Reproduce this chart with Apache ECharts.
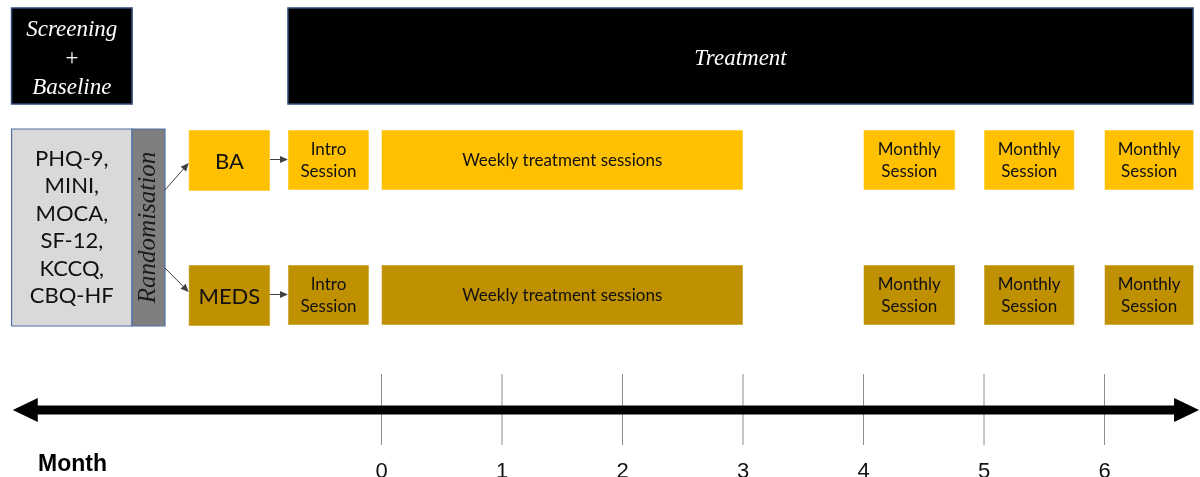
<!DOCTYPE html>
<html><head><meta charset="utf-8">
<script src="https://cdn.jsdelivr.net/npm/echarts@6/dist/echarts.min.js"></script>
<style>html,body{margin:0;padding:0;background:#fff}#c{width:1200px;height:477px}</style>
</head><body><div id="c"></div>
<script>
// ---- data (x in months) ----
const monthTicks = [0, 1, 2, 3, 4, 5, 6];
const monthLabels = ['0', '1', '2', '3', '4', '5', '6'];
const axisTitle = 'Month';
const phaseNames = ['Screening\n+\nBaseline', 'Treatment'];
const phaseStart = [-3.07, -0.776];
const phaseEnd = [-2.07, 6.735];
const assessments = ['PHQ-9,', 'MINI,', 'MOCA,', 'SF-12,', 'KCCQ,', 'CBQ-HF'];
const assessStart = -3.07, assessEnd = -2.07, randEnd = -1.797;
const randomLabel = 'Randomisation';
const arms = ['BA', 'MEDS'];
const armStart = [-1.6, -1.6];
const armEnd = [-0.925, -0.925];
const sessionNames = ['Intro\nSession', 'Weekly treatment sessions', 'Monthly\nSession', 'Monthly\nSession', 'Monthly\nSession'];
const sessionStart = [-0.776, 0, 4, 5, 6];
const sessionEnd = [-0.104, 3, 4.76, 5.75, 6.74];
const timelineStart = -3.06, timelineEnd = 6.785;

// ---- layout / style ----
const armColors = ['#ffc000', '#bf9000'];
const phaseRow = [8, 104];
const armRows = [[130, 191], [265, 326]];
const blockRow = [129, 326];
const axisY = 410;
const sansFont = 'Lato, "Open Sans", sans-serif';
const serifFont = '"Liberation Serif", "DejaVu Serif", serif';

function rectOf(api, x0, y0, x1, y1) {
  const a = api.coord([x0, y0]), b = api.coord([x1, y1]);
  return { x: a[0], y: a[1], width: b[0] - a[0], height: b[1] - a[1] };
}
function arrowEl(p0, p1, color, w, head) {
  const dx = p1[0] - p0[0], dy = p1[1] - p0[1];
  const L = Math.sqrt(dx * dx + dy * dy), ux = dx / L, uy = dy / L;
  const bx = p1[0] - ux * head, by = p1[1] - uy * head;
  const nx = -uy * head * 0.45, ny = ux * head * 0.45;
  return [
    { type: 'line', shape: { x1: p0[0], y1: p0[1], x2: bx, y2: by }, style: { stroke: color, lineWidth: w } },
    { type: 'polygon', shape: { points: [[p1[0], p1[1]], [bx + nx, by + ny], [bx - nx, by - ny]] }, style: { fill: color } }
  ];
}

const option = {
  animation: false,
  grid: { left: 0, right: 0, top: 0, bottom: 0 },
  xAxis: { type: 'value', min: (0 - 381.5) / 120.5, max: (1200 - 381.5) / 120.5, show: false },
  yAxis: { type: 'value', min: 0, max: 477, inverse: true, show: false },
  series: [
    { // phases
      type: 'custom', silent: true,
      data: phaseNames.map((n, i) => [phaseStart[i], phaseEnd[i]]),
      renderItem: (p, api) => {
        const r = rectOf(api, api.value(0), phaseRow[0], api.value(1), phaseRow[1]);
        return { type: 'group', children: [
          { type: 'rect', shape: r, style: { fill: '#000', stroke: '#2f4a7a', lineWidth: 1.5 } },
          { type: 'text', style: { text: phaseNames[p.dataIndex], x: r.x + r.width / 2, y: r.y + r.height / 2 + 3,
            align: 'center', verticalAlign: 'middle', fill: '#fff', font: 'italic 23px ' + serifFont, lineHeight: 29 } }
        ] };
      }
    },
    { // assessments + randomisation
      type: 'custom', silent: true,
      data: [[assessStart, assessEnd, randEnd]],
      renderItem: (p, api) => {
        const r = rectOf(api, api.value(0), blockRow[0], api.value(1), blockRow[1]);
        const rr = rectOf(api, api.value(1), blockRow[0], api.value(2), blockRow[1]);
        return { type: 'group', children: [
          { type: 'rect', shape: r, style: { fill: '#d9d9d9', stroke: '#4f6fa8', lineWidth: 1.2 } },
          { type: 'text', style: { text: assessments.join('\n'), x: r.x + r.width / 2, y: r.y + r.height / 2,
            align: 'center', verticalAlign: 'middle', fill: '#111', font: '22px ' + sansFont, lineHeight: 27.4 } },
          { type: 'rect', shape: rr, style: { fill: '#7f7f7f', stroke: '#4f6fa8', lineWidth: 1.2 } },
          { type: 'text', x: rr.x + rr.width / 2, y: rr.y + rr.height / 2, rotation: Math.PI / 2,
            style: { text: randomLabel, x: 0, y: 0, align: 'center', verticalAlign: 'middle', fill: '#1a1a1a',
              font: 'italic 25px ' + serifFont } }
        ] };
      }
    },
    { // arms
      type: 'custom', silent: true,
      data: arms.map((a, i) => [armStart[i], armEnd[i], i]),
      renderItem: (p, api) => {
        const row = armRows[api.value(2)];
        const r = rectOf(api, api.value(0), row[0], api.value(1), row[1]);
        const rEnd = api.coord([randEnd, 0])[0];
        const yMid = r.y + r.height / 2;
        const fromY = p.dataIndex === 0 ? blockRow[0] + 61 : blockRow[0] + 139;
        const toY = p.dataIndex === 0 ? r.y + 33 : r.y + 27;
        const introX = api.coord([sessionStart[0], 0])[0];
        return { type: 'group', children: [
          { type: 'rect', shape: r, style: { fill: armColors[api.value(2)], stroke: 'rgba(255,255,255,0.5)', lineWidth: 1 } },
          { type: 'text', style: { text: arms[p.dataIndex], x: r.x + r.width / 2, y: yMid + 1,
            align: 'center', verticalAlign: 'middle', fill: '#111', font: '22px ' + sansFont } },
          ...arrowEl([rEnd, fromY], [r.x, toY], '#404040', 1, 8),
          ...arrowEl([r.x + r.width, yMid - 1], [introX, yMid - 1], '#404040', 1, 8)
        ] };
      }
    },
    { // sessions
      type: 'custom', silent: true,
      data: arms.flatMap((a, i) => sessionNames.map((s, j) => [sessionStart[j], sessionEnd[j], i, j])),
      renderItem: (p, api) => {
        const row = armRows[api.value(2)];
        const r = rectOf(api, api.value(0), row[0], api.value(1), row[1] - 1);
        return { type: 'group', children: [
          { type: 'rect', shape: r, style: { fill: armColors[api.value(2)], stroke: 'rgba(255,255,255,0.5)', lineWidth: 1 } },
          { type: 'text', style: { text: sessionNames[api.value(3)], x: r.x + r.width / 2, y: r.y + r.height / 2 + 1,
            align: 'center', verticalAlign: 'middle', fill: '#111', font: '17px ' + sansFont, lineHeight: 22 } }
        ] };
      }
    },
    { // timeline ticks + labels
      type: 'custom', silent: true,
      data: monthTicks.map(m => [m]),
      renderItem: (p, api) => {
        const x = api.coord([api.value(0), axisY])[0];
        return { type: 'group', children: [
          { type: 'line', shape: { x1: x, y1: axisY - 36, x2: x, y2: axisY + 35 }, style: { stroke: '#8c8c8c', lineWidth: 1 } },
          { type: 'text', style: { text: monthLabels[p.dataIndex], x: x, y: 472, align: 'center', verticalAlign: 'middle',
            fill: '#111', font: '22px "Liberation Sans", Arial, sans-serif' } }
        ] };
      }
    },
    { // timeline main arrow
      type: 'custom', silent: true,
      data: [[timelineStart, timelineEnd]],
      renderItem: (p, api) => {
        const a = api.coord([api.value(0), axisY]), b = api.coord([api.value(1), axisY]);
        const head = 25, hh = 12;
        return { type: 'group', children: [
          { type: 'rect', shape: { x: a[0] + head - 1, y: axisY - 4.5, width: b[0] - a[0] - 2 * head + 2, height: 9 }, style: { fill: '#000' } },
          { type: 'polygon', shape: { points: [[a[0], axisY], [a[0] + head, axisY - hh], [a[0] + head, axisY + hh]] }, style: { fill: '#000' } },
          { type: 'polygon', shape: { points: [[b[0], axisY], [b[0] - head, axisY - hh], [b[0] - head, axisY + hh]] }, style: { fill: '#000' } },
          { type: 'text', style: { text: axisTitle, x: 38, y: 465, align: 'left', verticalAlign: 'middle',
            fill: '#000', font: 'bold 23px "Liberation Sans", Arial, sans-serif' } }
        ] };
      }
    }
  ]
};
const chart = echarts.init(document.getElementById('c'), null, { renderer: 'canvas' });
chart.setOption(option);
</script></body></html>
